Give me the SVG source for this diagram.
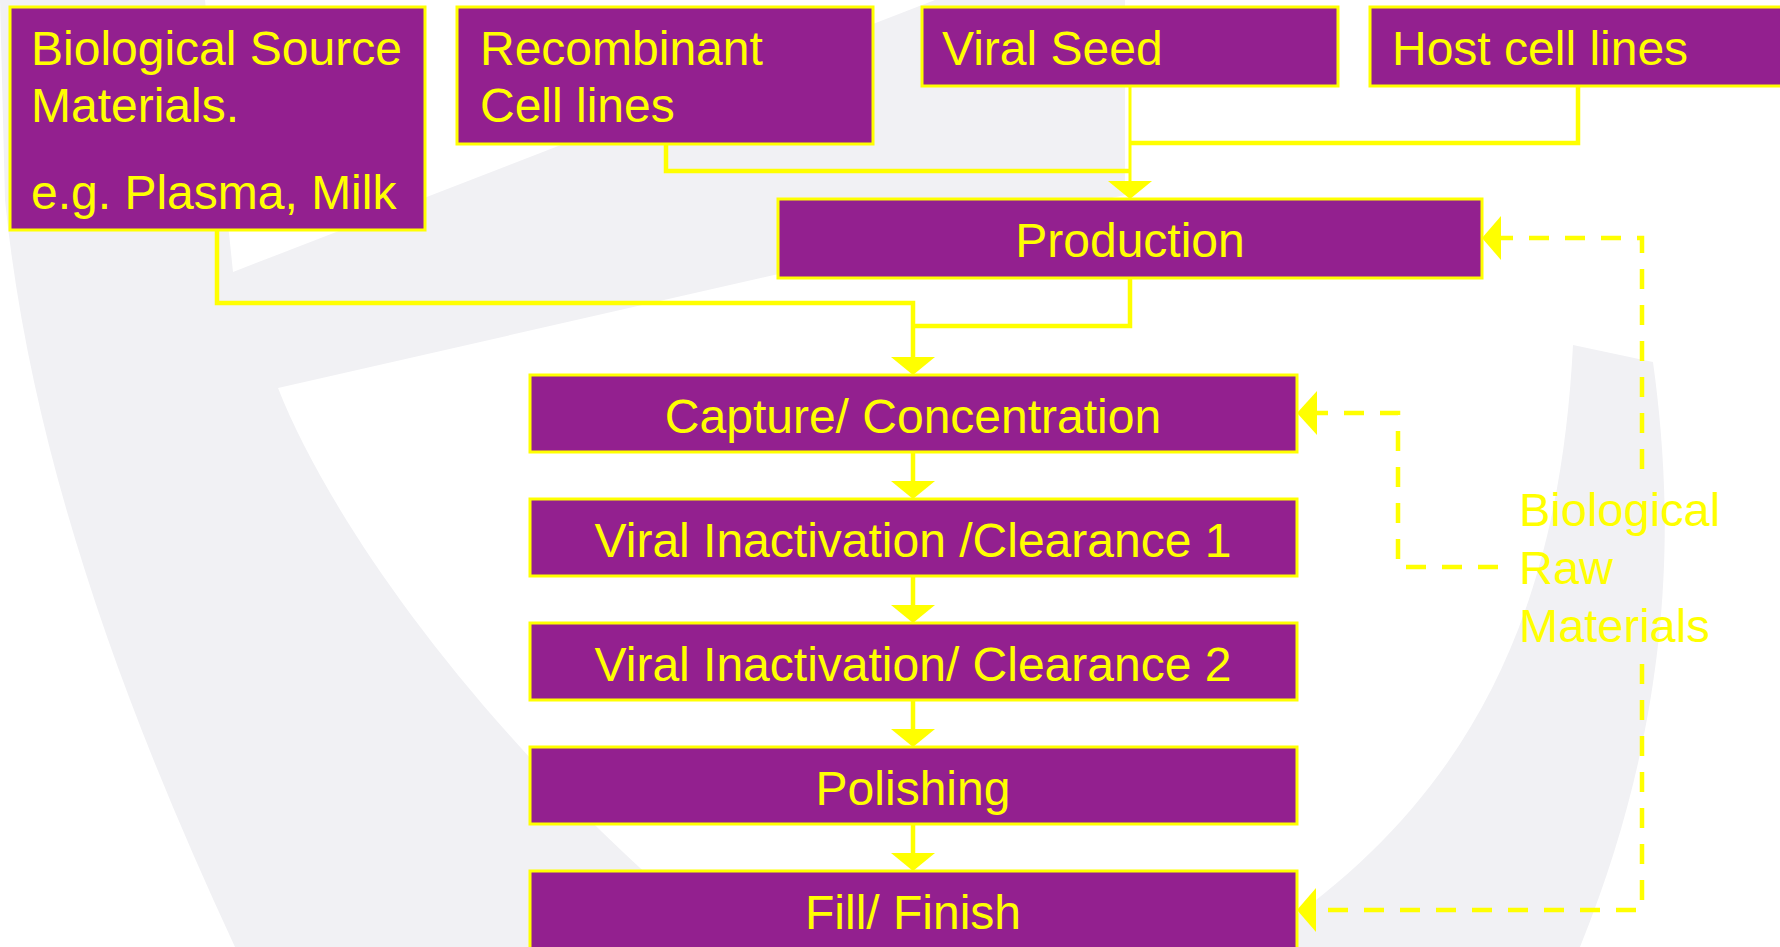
<svg xmlns="http://www.w3.org/2000/svg" width="1780" height="947" viewBox="0 0 1780 947">
  <style>
    .box { fill: #93208F; stroke: #FFFF00; stroke-width: 3; }
    .lbl { font-family: "Liberation Sans", Arial, sans-serif; font-size: 48px; fill: #FFFF00; }
    .side { font-size: 47px; }
    .mid { text-anchor: middle; }
    .flow { fill: none; stroke: #FFFF00; stroke-width: 4.5; }
    .thin { stroke-width: 3; }
    .dash { fill: none; stroke: #FFFF00; stroke-width: 4.5; stroke-dasharray: 20 16; }
    .head { fill: #FFFF00; }
    .mark { fill: #F1F1F4; }
  </style>

  <!-- page background and faint watermark -->
  <rect x="0" y="0" width="1780" height="947" fill="#FFFFFF"/>
  <g id="watermark">
    <path class="mark" d="M 0,0 L 205,0 L 233,272 L 935,0 L 1125,0 L 1125,195 L 278,388 C 330,520 480,740 730,947 L 235,947 C 120,700 30,450 5,200 Z"/>
    <path class="mark" d="M 1573,345 L 1653,362 C 1672,500 1680,700 1580,947 L 1250,947 C 1480,800 1560,600 1573,345 Z"/>
  </g>

  <!-- connectors -->
  <g id="connectors">
    <path class="flow" d="M 666,144 V 171 H 1130"/>
    <path class="flow thin" d="M 1130,86 V 183"/>
    <path class="flow" d="M 1578,86 V 143 H 1130"/>
    <polygon class="head" points="1108,181 1152,181 1130,199"/>

    <path class="flow" d="M 217,230 V 303 H 913 V 359"/>
    <path class="flow" d="M 1130,278 V 326 H 913"/>
    <polygon class="head" points="891,357 935,357 913,375"/>

    <path class="flow" d="M 913,452 V 483"/>
    <polygon class="head" points="891,481 935,481 913,499"/>
    <path class="flow" d="M 913,576 V 607"/>
    <polygon class="head" points="891,605 935,605 913,623"/>
    <path class="flow" d="M 913,700 V 731"/>
    <polygon class="head" points="891,729 935,729 913,747"/>
    <path class="flow" d="M 913,824 V 855"/>
    <polygon class="head" points="891,853 935,853 913,871"/>

    <!-- raw material feeds -->
    <path class="dash" d="M 1642,469 V 238 H 1500"/>
    <polygon class="head" points="1482,238 1501,216 1501,260"/>
    <path class="dash" d="M 1498,567 H 1398 V 413 H 1317"/>
    <polygon class="head" points="1297,413 1317,391 1317,435"/>
    <path class="dash" d="M 1642,664 V 910 H 1316"/>
    <polygon class="head" points="1297,910 1316,888 1316,932"/>
  </g>

  <!-- source nodes -->
  <g id="node-biological-source">
    <rect class="box" x="10" y="7" width="415" height="223"/>
    <text class="lbl" x="31" y="65">Biological Source</text>
    <text class="lbl" x="31" y="122">Materials.</text>
    <text class="lbl" x="31" y="209">e.g. Plasma, Milk</text>
  </g>
  <g id="node-recombinant">
    <rect class="box" x="457" y="7" width="416" height="137"/>
    <text class="lbl" x="480" y="65">Recombinant</text>
    <text class="lbl" x="480" y="122">Cell lines</text>
  </g>
  <g id="node-viral-seed">
    <rect class="box" x="922" y="7" width="416" height="79"/>
    <text class="lbl" x="942" y="65">Viral Seed</text>
  </g>
  <g id="node-host-cells">
    <rect class="box" x="1370" y="7" width="430" height="79"/>
    <text class="lbl" x="1392" y="65">Host cell lines</text>
  </g>

  <!-- process chain -->
  <g id="node-production">
    <rect class="box" x="778" y="199" width="704" height="79"/>
    <text class="lbl mid" x="1130" y="257">Production</text>
  </g>
  <g id="node-capture">
    <rect class="box" x="530" y="375" width="767" height="77"/>
    <text class="lbl mid" x="913" y="433">Capture/ Concentration</text>
  </g>
  <g id="node-viral-1">
    <rect class="box" x="530" y="499" width="767" height="77"/>
    <text class="lbl mid" x="913" y="557">Viral Inactivation /Clearance 1</text>
  </g>
  <g id="node-viral-2">
    <rect class="box" x="530" y="623" width="767" height="77"/>
    <text class="lbl mid" x="913" y="681">Viral Inactivation/ Clearance 2</text>
  </g>
  <g id="node-polishing">
    <rect class="box" x="530" y="747" width="767" height="77"/>
    <text class="lbl mid" x="913" y="805">Polishing</text>
  </g>
  <g id="node-fill-finish">
    <rect class="box" x="530" y="871" width="767" height="80"/>
    <text class="lbl mid" x="913" y="929">Fill/ Finish</text>
  </g>

  <!-- side label -->
  <g id="label-raw-materials">
    <text class="lbl side" x="1519" y="526">Biological</text>
    <text class="lbl side" x="1519" y="584">Raw</text>
    <text class="lbl side" x="1519" y="642">Materials</text>
  </g>
</svg>
